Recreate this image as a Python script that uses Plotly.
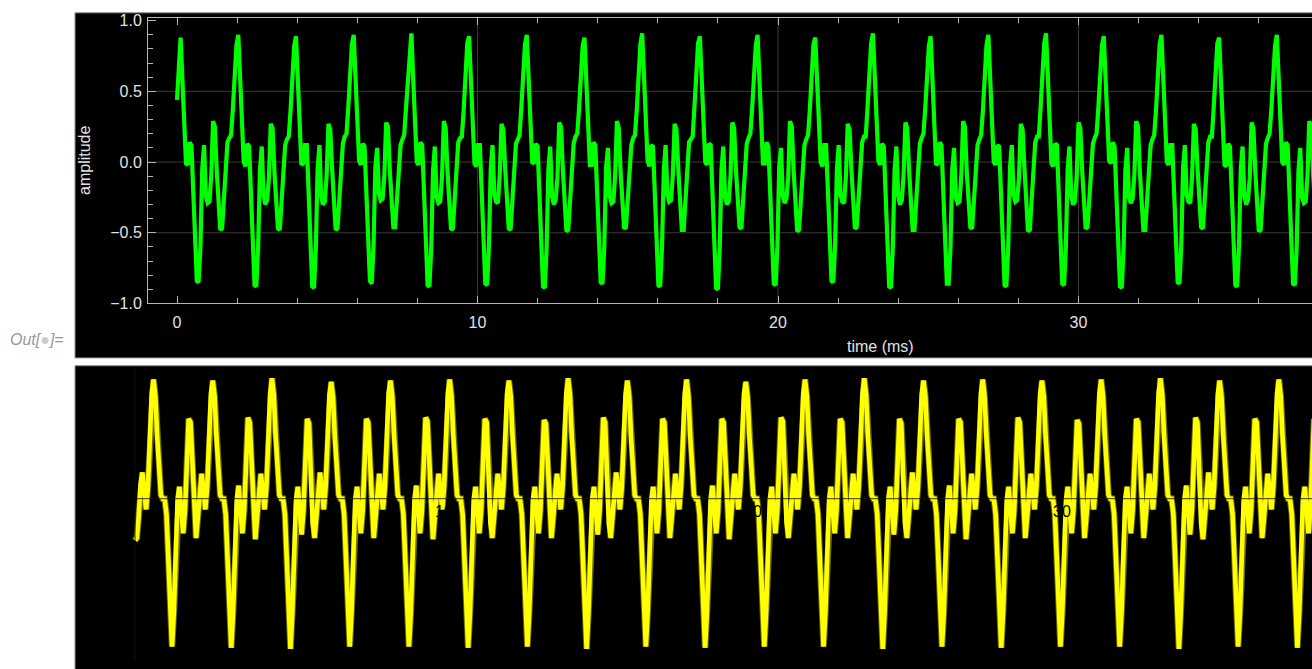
import plotly.graph_objects as go

W, H = 1312, 669

# ---------------- data ----------------
top_step_ms = 0.06          # sample spacing of the green trace (ms)
top_amplitude = [
    0.44, 0.72, 0.88, 0.58, 0.25, -0.01, -0.02, 0.14, 0.12, -0.20, -0.62, -0.84, -0.85, -0.60, -0.05, 0.12, -0.24, -0.29, -0.28, -0.10, 0.29, 0.25, -0.05, -0.27, -0.48, -0.47, -0.28, -0.07, 0.14, 0.17, 0.19, 0.38, 0.60, 0.83,
    0.90, 0.59, 0.25, 0.00, -0.03, 0.13, 0.11, -0.21, -0.64, -0.87, -0.88, -0.60, -0.06, 0.11, -0.23, -0.30, -0.27, -0.11, 0.27, 0.24, -0.06, -0.28, -0.47, -0.48, -0.28, -0.08, 0.12, 0.16, 0.18, 0.37, 0.60, 0.82,
    0.89, 0.58, 0.24, -0.02, -0.01, 0.12, 0.12, -0.20, -0.63, -0.88, -0.89, -0.61, -0.05, 0.12, -0.24, -0.30, -0.28, -0.09, 0.27, 0.23, -0.04, -0.26, -0.48, -0.47, -0.27, -0.07, 0.13, 0.18, 0.20, 0.39, 0.61, 0.83,
    0.90, 0.59, 0.26, 0.01, -0.02, 0.13, 0.11, -0.19, -0.61, -0.84, -0.86, -0.59, -0.04, 0.10, -0.22, -0.27, -0.26, -0.10, 0.28, 0.25, -0.05, -0.27, -0.46, -0.46, -0.29, -0.06, 0.12, 0.16, 0.19, 0.38, 0.59, 0.82,
    0.91, 0.59, 0.25, 0.00, -0.02, 0.14, 0.12, -0.21, -0.64, -0.87, -0.88, -0.61, -0.06, 0.11, -0.25, -0.29, -0.28, -0.10, 0.29, 0.24, -0.06, -0.28, -0.48, -0.47, -0.27, -0.07, 0.14, 0.17, 0.18, 0.37, 0.60, 0.84,
    0.89, 0.58, 0.24, -0.01, -0.03, 0.12, 0.12, -0.20, -0.62, -0.86, -0.87, -0.60, -0.05, 0.12, -0.23, -0.28, -0.29, -0.09, 0.27, 0.23, -0.04, -0.26, -0.47, -0.48, -0.28, -0.08, 0.13, 0.16, 0.19, 0.39, 0.61, 0.83,
    0.90, 0.59, 0.25, 0.00, -0.01, 0.13, 0.11, -0.20, -0.63, -0.88, -0.89, -0.61, -0.05, 0.11, -0.24, -0.30, -0.27, -0.11, 0.28, 0.25, -0.05, -0.27, -0.49, -0.48, -0.29, -0.07, 0.13, 0.18, 0.20, 0.38, 0.60, 0.82,
    0.88, 0.57, 0.24, -0.02, -0.02, 0.14, 0.12, -0.19, -0.61, -0.85, -0.86, -0.59, -0.04, 0.10, -0.24, -0.29, -0.28, -0.10, 0.29, 0.24, -0.06, -0.28, -0.47, -0.46, -0.27, -0.06, 0.12, 0.17, 0.19, 0.37, 0.59, 0.83,
    0.91, 0.59, 0.26, 0.01, -0.03, 0.12, 0.11, -0.21, -0.64, -0.87, -0.88, -0.60, -0.06, 0.12, -0.23, -0.28, -0.27, -0.09, 0.27, 0.23, -0.04, -0.26, -0.48, -0.48, -0.28, -0.08, 0.14, 0.16, 0.18, 0.39, 0.61, 0.84,
    0.89, 0.58, 0.25, 0.00, -0.02, 0.13, 0.12, -0.20, -0.63, -0.89, -0.90, -0.61, -0.05, 0.11, -0.25, -0.30, -0.28, -0.10, 0.28, 0.24, -0.05, -0.27, -0.46, -0.47, -0.29, -0.07, 0.13, 0.17, 0.20, 0.38, 0.60, 0.82,
    0.90, 0.59, 0.24, -0.01, -0.01, 0.14, 0.11, -0.19, -0.62, -0.86, -0.87, -0.60, -0.04, 0.10, -0.24, -0.29, -0.26, -0.11, 0.29, 0.25, -0.06, -0.28, -0.49, -0.48, -0.27, -0.06, 0.12, 0.16, 0.19, 0.37, 0.59, 0.83,
    0.88, 0.57, 0.25, 0.00, -0.03, 0.12, 0.12, -0.20, -0.61, -0.84, -0.85, -0.59, -0.05, 0.12, -0.23, -0.28, -0.29, -0.10, 0.27, 0.23, -0.04, -0.26, -0.47, -0.46, -0.28, -0.08, 0.14, 0.18, 0.18, 0.39, 0.61, 0.84,
    0.91, 0.59, 0.26, 0.01, -0.02, 0.13, 0.11, -0.21, -0.64, -0.88, -0.89, -0.61, -0.06, 0.11, -0.24, -0.30, -0.27, -0.09, 0.28, 0.24, -0.05, -0.27, -0.48, -0.48, -0.29, -0.07, 0.13, 0.17, 0.20, 0.38, 0.60, 0.82,
    0.89, 0.58, 0.24, -0.02, -0.01, 0.14, 0.12, -0.20, -0.62, -0.86, -0.86, -0.60, -0.05, 0.10, -0.25, -0.29, -0.28, -0.10, 0.29, 0.25, -0.06, -0.28, -0.46, -0.47, -0.27, -0.06, 0.12, 0.16, 0.19, 0.37, 0.59, 0.83,
    0.90, 0.59, 0.25, 0.00, -0.02, 0.12, 0.11, -0.19, -0.63, -0.87, -0.88, -0.61, -0.04, 0.12, -0.23, -0.28, -0.27, -0.11, 0.27, 0.23, -0.04, -0.26, -0.49, -0.48, -0.28, -0.08, 0.14, 0.18, 0.18, 0.39, 0.61, 0.84,
    0.91, 0.58, 0.25, -0.01, -0.03, 0.13, 0.12, -0.21, -0.62, -0.86, -0.87, -0.60, -0.05, 0.11, -0.24, -0.30, -0.28, -0.10, 0.28, 0.24, -0.05, -0.27, -0.47, -0.46, -0.29, -0.07, 0.13, 0.17, 0.20, 0.38, 0.60, 0.82,
    0.89, 0.57, 0.24, 0.01, -0.01, 0.14, 0.11, -0.20, -0.64, -0.88, -0.89, -0.61, -0.06, 0.10, -0.25, -0.29, -0.26, -0.09, 0.29, 0.25, -0.06, -0.28, -0.48, -0.48, -0.27, -0.06, 0.12, 0.16, 0.19, 0.37, 0.59, 0.83,
    0.90, 0.59, 0.26, 0.00, -0.02, 0.12, 0.12, -0.19, -0.61, -0.85, -0.86, -0.59, -0.04, 0.12, -0.23, -0.28, -0.29, -0.10, 0.27, 0.23, -0.04, -0.26, -0.46, -0.47, -0.28, -0.08, 0.14, 0.18, 0.18, 0.39, 0.61, 0.84,
    0.88, 0.58, 0.25, -0.02, -0.03, 0.13, 0.11, -0.21, -0.63, -0.87, -0.88, -0.60, -0.05, 0.11, -0.24, -0.30, -0.27, -0.11, 0.28, 0.24, -0.05, -0.27, -0.49, -0.48, -0.29, -0.07, 0.13, 0.17, 0.20, 0.38, 0.60, 0.82,
    0.90, 0.59, 0.24, 0.00, -0.02, 0.14, 0.12, -0.20, -0.62, -0.86, -0.87, -0.61, -0.06, 0.10, -0.25, -0.29, -0.28, -0.10, 0.29, 0.25, -0.06, -0.28, -0.47, -0.46, -0.27, -0.06, 0.12, 0.16, 0.19, 0.37, 0.59, 0.83,
]

bottom_step_ms = 0.0599     # sample spacing of the yellow trace (ms)
bottom_amplitude = [
    -0.35, -0.33, -0.15, 0.12, 0.22, 0.08, -0.09, 0.10, 0.50, 0.88,
    1.00, 0.86, 0.52, 0.24, 0.03, 0.00, 0.00, -0.13, -0.51, -0.95, -1.24, -0.95, -0.50, 0.00, 0.10, -0.12, -0.29, -0.10, 0.35, 0.67, 0.64, 0.30, -0.20, -0.33, -0.15, 0.10, 0.21, 0.08, -0.09, 0.10, 0.50, 0.88,
    0.99, 0.86, 0.52, 0.24, 0.03, 0.00, 0.00, -0.13, -0.51, -0.95, -1.25, -0.95, -0.50, 0.00, 0.11, -0.12, -0.29, -0.10, 0.35, 0.68, 0.64, 0.30, -0.20, -0.34, -0.15, 0.10, 0.21, 0.08, -0.09, 0.10, 0.50, 0.88,
    1.01, 0.87, 0.52, 0.24, 0.03, 0.00, 0.00, -0.13, -0.52, -0.96, -1.26, -0.95, -0.50, 0.00, 0.10, -0.12, -0.30, -0.10, 0.36, 0.67, 0.63, 0.30, -0.21, -0.33, -0.15, 0.11, 0.22, 0.08, -0.09, 0.10, 0.50, 0.87,
    0.98, 0.85, 0.51, 0.24, 0.03, 0.00, 0.00, -0.13, -0.51, -0.95, -1.24, -0.94, -0.50, 0.00, 0.10, -0.12, -0.29, -0.10, 0.35, 0.67, 0.64, 0.30, -0.20, -0.33, -0.15, 0.10, 0.21, 0.08, -0.09, 0.10, 0.50, 0.88,
    0.99, 0.86, 0.52, 0.24, 0.03, 0.00, 0.00, -0.13, -0.51, -0.95, -1.24, -0.95, -0.50, 0.00, 0.11, -0.12, -0.29, -0.10, 0.35, 0.68, 0.65, 0.30, -0.20, -0.34, -0.15, 0.10, 0.21, 0.08, -0.09, 0.10, 0.50, 0.88,
    1.00, 0.86, 0.52, 0.24, 0.03, 0.00, 0.00, -0.13, -0.51, -0.95, -1.25, -0.95, -0.50, 0.00, 0.10, -0.12, -0.29, -0.10, 0.35, 0.67, 0.64, 0.30, -0.20, -0.33, -0.15, 0.10, 0.21, 0.08, -0.09, 0.10, 0.50, 0.88,
    0.99, 0.86, 0.52, 0.24, 0.03, 0.00, 0.00, -0.13, -0.51, -0.95, -1.24, -0.95, -0.50, 0.00, 0.10, -0.12, -0.29, -0.10, 0.35, 0.66, 0.63, 0.30, -0.20, -0.33, -0.15, 0.10, 0.21, 0.08, -0.09, 0.10, 0.50, 0.88,
    1.01, 0.87, 0.52, 0.24, 0.03, 0.00, 0.00, -0.13, -0.52, -0.96, -1.26, -0.95, -0.50, 0.00, 0.10, -0.12, -0.30, -0.10, 0.36, 0.68, 0.64, 0.30, -0.21, -0.33, -0.15, 0.11, 0.22, 0.08, -0.09, 0.10, 0.50, 0.87,
    0.99, 0.86, 0.52, 0.24, 0.03, 0.00, 0.00, -0.13, -0.51, -0.95, -1.24, -0.95, -0.50, 0.00, 0.10, -0.12, -0.29, -0.10, 0.35, 0.67, 0.64, 0.30, -0.20, -0.33, -0.15, 0.10, 0.21, 0.08, -0.09, 0.10, 0.50, 0.88,
    1.00, 0.86, 0.52, 0.24, 0.03, 0.00, 0.00, -0.13, -0.51, -0.95, -1.25, -0.95, -0.50, 0.00, 0.11, -0.12, -0.29, -0.10, 0.35, 0.67, 0.64, 0.30, -0.20, -0.34, -0.15, 0.10, 0.21, 0.08, -0.09, 0.10, 0.50, 0.88,
    0.98, 0.85, 0.51, 0.24, 0.03, 0.00, 0.00, -0.13, -0.51, -0.95, -1.24, -0.94, -0.50, 0.00, 0.10, -0.12, -0.29, -0.10, 0.35, 0.68, 0.65, 0.30, -0.20, -0.33, -0.15, 0.10, 0.21, 0.08, -0.09, 0.10, 0.50, 0.88,
    1.00, 0.86, 0.52, 0.24, 0.03, 0.00, 0.00, -0.13, -0.51, -0.95, -1.24, -0.95, -0.50, 0.00, 0.10, -0.12, -0.29, -0.10, 0.35, 0.67, 0.64, 0.30, -0.20, -0.33, -0.15, 0.10, 0.21, 0.08, -0.09, 0.10, 0.50, 0.88,
    1.01, 0.87, 0.52, 0.24, 0.03, 0.00, 0.00, -0.13, -0.52, -0.96, -1.26, -0.95, -0.50, 0.00, 0.10, -0.12, -0.30, -0.10, 0.36, 0.67, 0.63, 0.30, -0.21, -0.33, -0.15, 0.11, 0.22, 0.08, -0.09, 0.10, 0.50, 0.87,
    0.99, 0.86, 0.52, 0.24, 0.03, 0.00, 0.00, -0.13, -0.51, -0.95, -1.24, -0.95, -0.50, 0.00, 0.11, -0.12, -0.29, -0.10, 0.35, 0.67, 0.64, 0.30, -0.20, -0.34, -0.15, 0.10, 0.21, 0.08, -0.09, 0.10, 0.50, 0.88,
    1.00, 0.86, 0.52, 0.24, 0.03, 0.00, 0.00, -0.13, -0.51, -0.95, -1.25, -0.95, -0.50, 0.00, 0.10, -0.12, -0.29, -0.10, 0.35, 0.68, 0.64, 0.30, -0.20, -0.33, -0.15, 0.10, 0.21, 0.08, -0.09, 0.10, 0.50, 0.88,
    0.99, 0.86, 0.52, 0.24, 0.03, 0.00, 0.00, -0.13, -0.51, -0.95, -1.24, -0.95, -0.50, 0.00, 0.10, -0.12, -0.29, -0.10, 0.35, 0.66, 0.63, 0.30, -0.20, -0.33, -0.15, 0.10, 0.21, 0.08, -0.09, 0.10, 0.50, 0.88,
    1.00, 0.86, 0.52, 0.24, 0.03, 0.00, 0.00, -0.13, -0.51, -0.95, -1.24, -0.95, -0.50, 0.00, 0.10, -0.12, -0.29, -0.10, 0.35, 0.67, 0.64, 0.30, -0.20, -0.33, -0.15, 0.10, 0.21, 0.08, -0.09, 0.10, 0.50, 0.88,
    1.01, 0.87, 0.52, 0.24, 0.03, 0.00, 0.00, -0.13, -0.52, -0.96, -1.26, -0.95, -0.50, 0.00, 0.11, -0.12, -0.30, -0.10, 0.36, 0.68, 0.64, 0.30, -0.21, -0.34, -0.15, 0.11, 0.22, 0.08, -0.09, 0.10, 0.50, 0.87,
    0.99, 0.86, 0.52, 0.24, 0.03, 0.00, 0.00, -0.13, -0.51, -0.95, -1.24, -0.95, -0.50, 0.00, 0.10, -0.12, -0.29, -0.10, 0.35, 0.67, 0.64, 0.30, -0.20, -0.33, -0.15, 0.10, 0.21, 0.08, -0.09, 0.10, 0.50, 0.88,
    1.00, 0.86, 0.52, 0.24, 0.03, 0.00, 0.00, -0.13, -0.51, -0.95, -1.25, -0.95, -0.50, 0.00, 0.10, -0.12, -0.29, -0.10, 0.35, 0.67, 0.64, 0.30, -0.20, -0.33, -0.15, 0.10, 0.21, 0.08, -0.09, 0.10, 0.50, 0.88,
]

top_x_tickvals = [0, 10, 20, 30]
top_x_ticktext = ["0", "10", "20", "30"]
top_y_tickvals = [-1.0, -0.5, 0.0, 0.5, 1.0]
top_y_ticktext = ["\u22121.0", "\u22120.5", "0.0", "0.5", "1.0"]
top_x_grid = [10, 20, 30]
top_y_grid = [-0.5, 0.0, 0.5]
bottom_x_labels = [10, 20, 30]

top_time = [i * top_step_ms for i in range(len(top_amplitude))]
bottom_time = [i * bottom_step_ms for i in range(len(bottom_amplitude))]

# ---------------- figure ----------------
def px(x):
    return x / W


def py(y):
    return 1 - y / H


FONT = "Liberation Sans, Arial, sans-serif"
LABEL_COLOR = "#e2e2e2"
FRAME_COLOR = "#b4b4b4"
GRID_COLOR = "#3a3a3a"

fig = go.Figure()

fig.add_trace(go.Scatter(x=top_time, y=top_amplitude, mode="lines",
                         line=dict(color="#00ff00", width=4.2),
                         xaxis="x", yaxis="y", hoverinfo="skip"))
fig.add_trace(go.Scatter(x=bottom_time, y=bottom_amplitude, mode="lines",
                         line=dict(color="#6a6a00", width=6.5),
                         xaxis="x2", yaxis="y2", hoverinfo="skip"))
fig.add_trace(go.Scatter(x=bottom_time, y=bottom_amplitude, mode="lines",
                         line=dict(color="#ffff00", width=4.6),
                         xaxis="x2", yaxis="y2", hoverinfo="skip"))

TOP_X0, TOP_ZERO, TOP_SCALE = 148, 177, 30.05
TOP_YTOP, TOP_YBOT = 12.7, 304.3
BOT_X0, BOT_ZERO, BOT_SCALE = 75, 135, 30.9
BOT_YTOP, BOT_YZERO, BOT_YSCALE = 368, 504, 122

top_xrange = [(TOP_X0 - TOP_ZERO) / TOP_SCALE, (W - TOP_ZERO) / TOP_SCALE]
top_yrange = [-1.0, 1.0 + (15 - TOP_YTOP) / ((TOP_YBOT - 15) / 2)]
bot_xrange = [(BOT_X0 - BOT_ZERO) / BOT_SCALE, (W - BOT_ZERO) / BOT_SCALE]
bot_yrange = [-(H - BOT_YZERO) / BOT_YSCALE, (BOT_YZERO - BOT_YTOP) / BOT_YSCALE]

tickfont = dict(family=FONT, size=16, color=LABEL_COLOR)

fig.update_layout(
    width=W, height=H,
    margin=dict(l=0, r=0, t=0, b=0),
    paper_bgcolor="white",
    plot_bgcolor="rgba(0,0,0,0)",
    showlegend=False,
    xaxis=dict(domain=[px(TOP_X0), 1], range=top_xrange, anchor="y",
               showline=True, linecolor=FRAME_COLOR, linewidth=1, mirror="ticks",
               ticks="inside", ticklen=7, tickcolor=FRAME_COLOR, tickwidth=1,
               tickmode="array", tickvals=top_x_tickvals, ticktext=top_x_ticktext,
               tickfont=tickfont, ticklabelstandoff=4,
               minor=dict(ticks="inside", ticklen=5, tickmode="linear", tick0=0, dtick=2,
                          tickcolor=FRAME_COLOR, showgrid=False),
               showgrid=False, zeroline=False, fixedrange=True),
    yaxis=dict(domain=[py(TOP_YBOT), py(TOP_YTOP)], range=top_yrange, anchor="x",
               showline=True, linecolor=FRAME_COLOR, linewidth=1, mirror=False,
               ticks="inside", ticklen=8, tickcolor=FRAME_COLOR, tickwidth=1,
               tickmode="array", tickvals=top_y_tickvals, ticktext=top_y_ticktext,
               tickfont=tickfont, ticklabelstandoff=2,
               minor=dict(ticks="inside", ticklen=5, tickmode="linear", tick0=0, dtick=0.1,
                          tickcolor=FRAME_COLOR, showgrid=False),
               showgrid=False, zeroline=False, fixedrange=True),
    xaxis2=dict(domain=[px(BOT_X0), 1], range=bot_xrange, anchor="y2",
                visible=False, fixedrange=True),
    yaxis2=dict(domain=[0, py(BOT_YTOP)], range=bot_yrange, anchor="x2",
                visible=False, fixedrange=True),
)

shapes = [
    dict(type="rect", xref="paper", yref="paper", x0=px(75), x1=1.02, y0=py(360), y1=py(7),
         fillcolor="black", line=dict(color="#8c8c8c", width=1), layer="below"),
    dict(type="rect", xref="paper", yref="paper", x0=px(75), x1=1.02, y0=-0.02, y1=py(368),
         fillcolor="black", line=dict(color="#8c8c8c", width=1), layer="below"),
]
for gx in top_x_grid:
    shapes.append(dict(type="line", xref="x", yref="y", x0=gx, x1=gx,
                       y0=top_yrange[0], y1=top_yrange[1],
                       line=dict(color=GRID_COLOR, width=1), layer="below"))
for gy in top_y_grid:
    shapes.append(dict(type="line", xref="x", yref="y", x0=top_xrange[0], x1=top_xrange[1],
                       y0=gy, y1=gy, line=dict(color=GRID_COLOR, width=1), layer="below"))
# bottom plot axes (black, visible only over the curve)
shapes.append(dict(type="line", xref="x2", yref="y2", x0=0, x1=bot_xrange[1], y0=0, y1=0,
                   line=dict(color="rgba(20,20,0,0.85)", width=1), layer="above"))
shapes.append(dict(type="line", xref="x2", yref="y2", x0=0, x1=0,
                   y0=bot_yrange[0], y1=bot_yrange[1],
                   line=dict(color="rgba(20,20,0,0.85)", width=1), layer="above"))
fig.update_layout(shapes=shapes)

annotations = [
    dict(text="amplitude", xref="paper", yref="paper", x=px(84.5), y=py(158),
         textangle=-90, showarrow=False, xanchor="center", yanchor="middle",
         font=dict(family=FONT, size=16, color=LABEL_COLOR)),
    dict(text="time (ms)", xref="paper", yref="paper", x=px(880), y=py(348),
         showarrow=False, xanchor="center", yanchor="middle",
         font=dict(family=FONT, size=16, color=LABEL_COLOR)),
    dict(text="Out[<span style='color:#cccccc'>\u25cf</span>]=", xref="paper", yref="paper",
         x=px(8), y=py(341), showarrow=False, xanchor="left", yanchor="middle",
         font=dict(family=FONT, size=16, color="#999999", style="italic")),
]
for bx in bottom_x_labels:
    annotations.append(dict(text=str(bx), xref="x2", yref="paper", x=bx, y=py(517),
                            showarrow=False, xanchor="center", yanchor="middle",
                            font=dict(family=FONT, size=16, color="black")))
fig.update_layout(annotations=annotations)

fig.write_html("out.html")
